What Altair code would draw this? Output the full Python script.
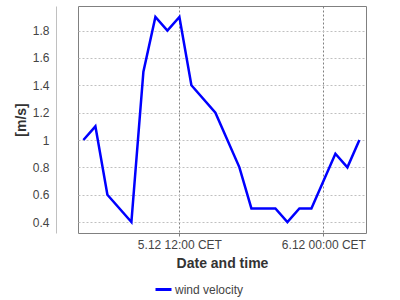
import altair as alt
import pandas as pd

times = ["2023-12-05T04:00", "2023-12-05T05:00", "2023-12-05T06:00", "2023-12-05T08:00",
         "2023-12-05T09:00", "2023-12-05T10:00", "2023-12-05T11:00", "2023-12-05T12:00",
         "2023-12-05T13:00", "2023-12-05T15:00", "2023-12-05T17:00", "2023-12-05T18:00",
         "2023-12-05T20:00", "2023-12-05T21:00", "2023-12-05T22:00", "2023-12-05T23:00",
         "2023-12-06T01:00", "2023-12-06T02:00", "2023-12-06T03:00"]
values = [1.0, 1.1, 0.6, 0.4, 1.5, 1.9, 1.8, 1.9, 1.4, 1.2, 0.8, 0.5, 0.5, 0.4, 0.5, 0.5, 0.9, 0.8, 1.0]
series = ["wind velocity"] * len(times)
x_ticks = ["2023-12-05T12:00", "2023-12-06T00:00"]
y_ticks = [0.4, 0.6, 0.8, 1.0, 1.2, 1.4, 1.6, 1.8]

df = pd.DataFrame({"t": times, "v": values, "s": series})

font = "Liberation Sans"

chart = alt.Chart(df).mark_line(strokeWidth=2.5).encode(
    x=alt.X("t:T", title="Date and time",
            scale=alt.Scale(type="utc", domain=["2023-12-05T03:33", "2023-12-06T03:33"]),
            axis=alt.Axis(values=x_ticks, format="%-d.%m %H:%M CET", domain=False,
                          tickSize=3, tickColor="#808080", labelPadding=3,
                          grid=True, gridColor="#808080", gridDash=[2, 2],
                          labelFont=font, labelFontSize=12, labelColor="#444444",
                          titleFont=font, titleFontSize=14, titleFontWeight="bold",
                          titleColor="#333333", titlePadding=6, labelFlush=False)),
    y=alt.Y("v:Q", title="[m/s]",
            scale=alt.Scale(domain=[0.32, 1.98], nice=False, zero=False),
            axis=alt.Axis(values=y_ticks, format=".1~f", offset=22, domain=True,
                          domainColor="#c0c0c0", ticks=False, labelPadding=7,
                          grid=True, gridColor="#c0c0c0", gridDash=[2, 2],
                          labelFont=font, labelFontSize=12, labelColor="#444444",
                          titleFont=font, titleFontSize=14, titleFontWeight="bold",
                          titleColor="#333333", titlePadding=4)),
    color=alt.Color("s:N", title=None,
                    scale=alt.Scale(range=["#0000ff"]),
                    legend=alt.Legend(orient="none", legendX=76, legendY=274,
                                      symbolType="stroke", symbolStrokeWidth=3,
                                      symbolSize=256, labelOffset=2, labelFont=font,
                                      labelFontSize=12, labelColor="#444444"))
).properties(
    width=288, height=227,
    autosize=alt.AutoSizeParams(type="none"),
    padding={"left": 78, "top": 6, "right": 34, "bottom": 67},
).configure_view(stroke="#808080", strokeWidth=1)

chart.save("out.html", embed_options={"renderer": "svg", "actions": False})
